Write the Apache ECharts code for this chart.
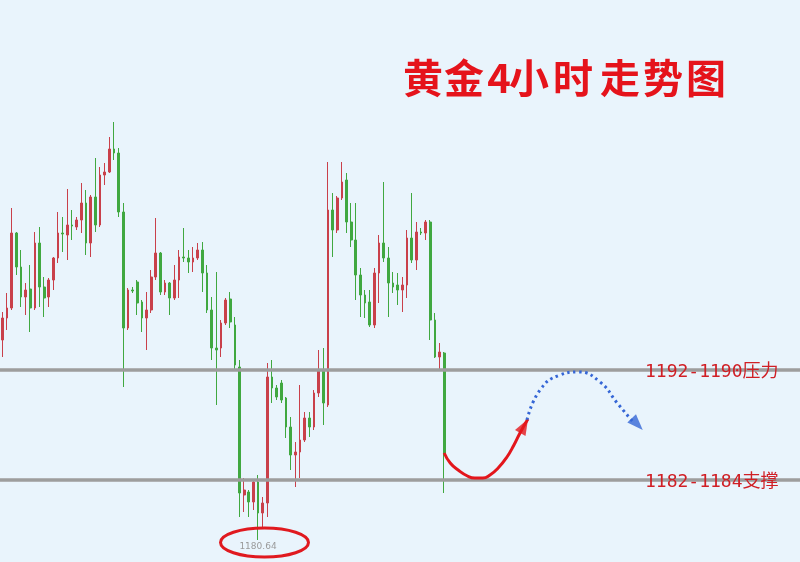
<!DOCTYPE html>
<html><head><meta charset="utf-8">
<script src="https://cdn.jsdelivr.net/npm/echarts@6/dist/echarts.min.js"></script>
<style>html,body{margin:0;padding:0;background:#e9f4fc}#c{width:800px;height:562px}</style>
</head><body><div id="c"></div>
<script>
// candle values: [open, close, low, high]
const ohlc = [
[1190.00,1191.10,1189.15,1191.40],[1191.10,1191.60,1190.50,1192.35],[1191.60,1195.35,1191.50,1196.60],[1195.35,1193.65,1193.25,1195.40],
[1193.65,1192.15,1191.65,1194.50],[1192.15,1192.50,1191.25,1192.85],[1192.55,1191.60,1190.40,1193.75],[1191.60,1194.85,1191.50,1195.40],
[1194.85,1192.65,1191.65,1195.65],[1192.65,1192.10,1191.15,1193.15],[1192.15,1193.00,1191.65,1193.10],[1193.00,1194.10,1192.50,1194.15],
[1194.10,1195.35,1193.85,1196.40],[1195.35,1195.30,1194.40,1196.15],[1195.25,1195.75,1194.00,1197.55],[1195.75,1195.70,1195.00,1196.50],
[1195.65,1196.00,1195.50,1196.15],[1196.00,1196.85,1195.35,1197.85],[1196.85,1194.85,1194.25,1197.50],[1194.85,1197.15,1194.15,1197.25],
[1197.15,1195.75,1195.40,1199.10],[1195.75,1198.25,1195.65,1198.65],[1198.25,1198.40,1197.75,1198.85],[1198.40,1199.55,1198.35,1200.15],
[1199.55,1199.35,1199.00,1200.90],[1199.35,1196.40,1196.15,1199.60],[1196.40,1190.60,1187.65,1196.85],[1190.60,1192.50,1190.50,1192.60],
[1192.50,1192.45,1192.35,1192.65],[1192.90,1191.85,1191.25,1193.00],[1191.90,1191.10,1190.40,1192.00],[1191.10,1191.50,1189.50,1192.40],
[1191.50,1193.15,1191.35,1193.50],[1193.15,1194.35,1193.00,1196.10],[1194.35,1192.40,1192.25,1194.40],[1192.40,1192.85,1192.25,1193.00],
[1192.85,1192.10,1191.25,1192.90],[1192.10,1193.00,1192.00,1193.75],[1193.00,1194.15,1192.10,1194.50],[1194.15,1194.10,1193.90,1195.60],
[1194.10,1193.90,1193.35,1194.50],[1193.90,1194.10,1193.40,1194.65],[1194.10,1194.50,1194.00,1194.85],[1194.50,1193.35,1192.40,1194.90],
[1193.35,1191.50,1191.35,1193.75],[1191.50,1189.60,1189.00,1192.15],[1189.60,1189.50,1186.75,1193.40],[1189.60,1190.85,1189.15,1191.00],
[1190.85,1192.00,1190.75,1192.10],[1192.05,1190.90,1190.60,1192.40],[1190.75,1188.75,1188.50,1191.15],[1188.65,1182.35,1181.15,1189.00],
[1182.25,1182.50,1181.40,1183.10],[1182.40,1181.90,1181.15,1182.50],[1181.90,1182.90,1181.50,1182.95],[1182.90,1181.35,1180.00,1183.25],
[1181.35,1181.85,1180.65,1182.15],[1181.85,1188.15,1181.15,1188.85],[1188.15,1187.60,1186.85,1189.00],[1187.60,1187.15,1187.00,1187.75],
[1187.85,1187.00,1186.85,1188.00],[1187.10,1185.65,1185.10,1187.15],[1185.65,1184.25,1183.50,1186.15],[1184.25,1184.40,1182.65,1184.90],
[1184.40,1185.00,1183.10,1187.75],[1185.00,1186.10,1184.90,1186.40],[1186.10,1185.65,1185.15,1186.40],[1185.65,1187.35,1185.50,1187.50],
[1187.35,1188.50,1187.15,1189.50],[1188.50,1186.85,1185.75,1189.60],[1186.75,1196.50,1186.65,1198.90],[1196.50,1195.50,1194.15,1197.35],
[1195.50,1197.10,1195.35,1197.20],[1197.10,1197.90,1197.00,1198.90],[1198.00,1195.90,1195.35,1198.35],[1195.90,1195.00,1194.65,1196.85],
[1195.00,1193.25,1192.00,1196.85],[1193.25,1192.25,1191.15,1193.60],[1192.25,1191.85,1191.10,1192.50],[1191.90,1190.75,1190.65,1192.50],
[1190.75,1193.35,1190.60,1193.60],[1193.35,1194.85,1191.85,1195.25],[1194.85,1194.10,1193.90,1197.90],[1194.10,1192.85,1191.15,1194.65],
[1192.85,1192.65,1192.35,1193.40],[1192.75,1192.50,1191.75,1193.35],[1192.50,1192.75,1191.40,1193.15],[1192.75,1195.10,1192.10,1195.50],
[1195.10,1194.00,1193.85,1197.35],[1194.00,1195.40,1193.50,1195.90],[1195.40,1195.35,1195.25,1195.60],[1195.35,1195.90,1195.00,1196.00],
[1195.90,1191.00,1190.00,1196.00],[1191.00,1189.15,1189.10,1191.35],[1189.15,1189.40,1188.50,1189.85],[1189.35,1184.35,1182.35,1189.40]
];
const slotCount = 172;               // candle slots across the full width
const categories = Array.from({length: slotCount}, (_, i) => String(i + 1));
const resistance = 1188.5;
const support = 1183.0;
// projected path (slot index, price)
const upPath = [[95,1184.35],[96.3,1183.85],[98,1183.5],[100,1183.2],[101.6,1183.1],[103.3,1183.1],[104.85,1183.25],[106.6,1183.6],[108.5,1184.15],[110,1184.75],[111.3,1185.35],[113,1186.05]];
const downPath = [[112.8,1186.0],[115.6,1187.5],[119.9,1188.25],[123.8,1188.4],[128.5,1187.9],[132.2,1186.85],[135.6,1185.9]];
const upArrow = [[112.19,1185.7]];
const downArrow = [[136.5,1185.79]];
const lowLabel = '1180.64';
const titleChars = ['黄','金','4','小','时','走','势','图'];
const levelLabels = ['1192-1190压力','1182-1184支撑'];

const chart = echarts.init(document.getElementById('c'));
const option = {
  backgroundColor: '#e9f4fc',
  animation: false,
  grid: {left: 0, right: 0, top: 0, bottom: 0},
  xAxis: [
    {type: 'category', data: categories, show: false, boundaryGap: true},
    {type: 'value', min: -0.5, max: slotCount - 0.5, show: false, position: 'top'}
  ],
  yAxis: {type: 'value', min: 1178.9, max: 1207, show: false, scale: true},
  series: [
    {
      type: 'candlestick', xAxisIndex: 0, data: ohlc, barWidth: 2.2,
      itemStyle: {color: '#c9404a', color0: '#40a840', borderColor: '#c9404a', borderColor0: '#40a840', borderWidth: 1},
      markLine: {
        silent: true, symbol: ['none','none'], label: {show: false},
        lineStyle: {color: '#9d9d9d', width: 3.5, type: 'solid'},
        data: [{yAxis: resistance}, {yAxis: support}]
      }
    },
    {
      type: 'line', xAxisIndex: 1, data: upPath, smooth: true, showSymbol: false,
      lineStyle: {color: '#e3161c', width: 3}, z: 5
    },
    {
      type: 'line', xAxisIndex: 1, data: downPath, smooth: true, showSymbol: false,
      lineStyle: {color: '#3566d6', width: 3, type: [2.5, 3.5]}, z: 5
    },
    {
      type: 'scatter', xAxisIndex: 1, data: upArrow, symbol: 'triangle', symbolSize: [12, 16], symbolRotate: -29,
      itemStyle: {color: '#e3161c'}, z: 6
    },
    {
      type: 'scatter', xAxisIndex: 1, data: downArrow, symbol: 'triangle', symbolSize: [12, 16], symbolRotate: -136,
      itemStyle: {color: '#3566d6'}, z: 6
    }
  ]
};
chart.setOption(option);

const yR = chart.convertToPixel({yAxisIndex: 0}, resistance);
const yS = chart.convertToPixel({yAxisIndex: 0}, support);
const titleX = [423, 464, 499, 529, 573, 620, 663, 706];
const graphics = titleChars.map((ch, i) => ({
  type: 'text', x: titleX[i], y: 78, z: 100,
  style: {text: ch, fill: '#e5131b', font: 'bold 40px "Noto Sans CJK SC"', align: 'center', verticalAlign: 'middle'}
}));
graphics.push({
  type: 'text', x: 645, y: yR + 2, z: 100,
  style: {text: levelLabels[0], fill: '#d01f25', font: '18px "DejaVu Sans Mono", "Noto Sans CJK SC"', align: 'left', verticalAlign: 'middle'}
});
graphics.push({
  type: 'text', x: 645, y: yS + 2, z: 100,
  style: {text: levelLabels[1], fill: '#d01f25', font: '18px "DejaVu Sans Mono", "Noto Sans CJK SC"', align: 'left', verticalAlign: 'middle'}
});
graphics.push({
  type: 'text', x: 258, y: 547, z: 100,
  style: {text: lowLabel, fill: '#9a9a9a', font: '9px "DejaVu Sans"', align: 'center', verticalAlign: 'middle'}
});
graphics.push({
  type: 'ellipse', z: 100, shape: {cx: 264.5, cy: 542.5, rx: 44, ry: 14.5},
  style: {fill: 'none', stroke: '#e0191f', lineWidth: 3}
});
chart.setOption({graphic: graphics});
</script>
</body></html>
